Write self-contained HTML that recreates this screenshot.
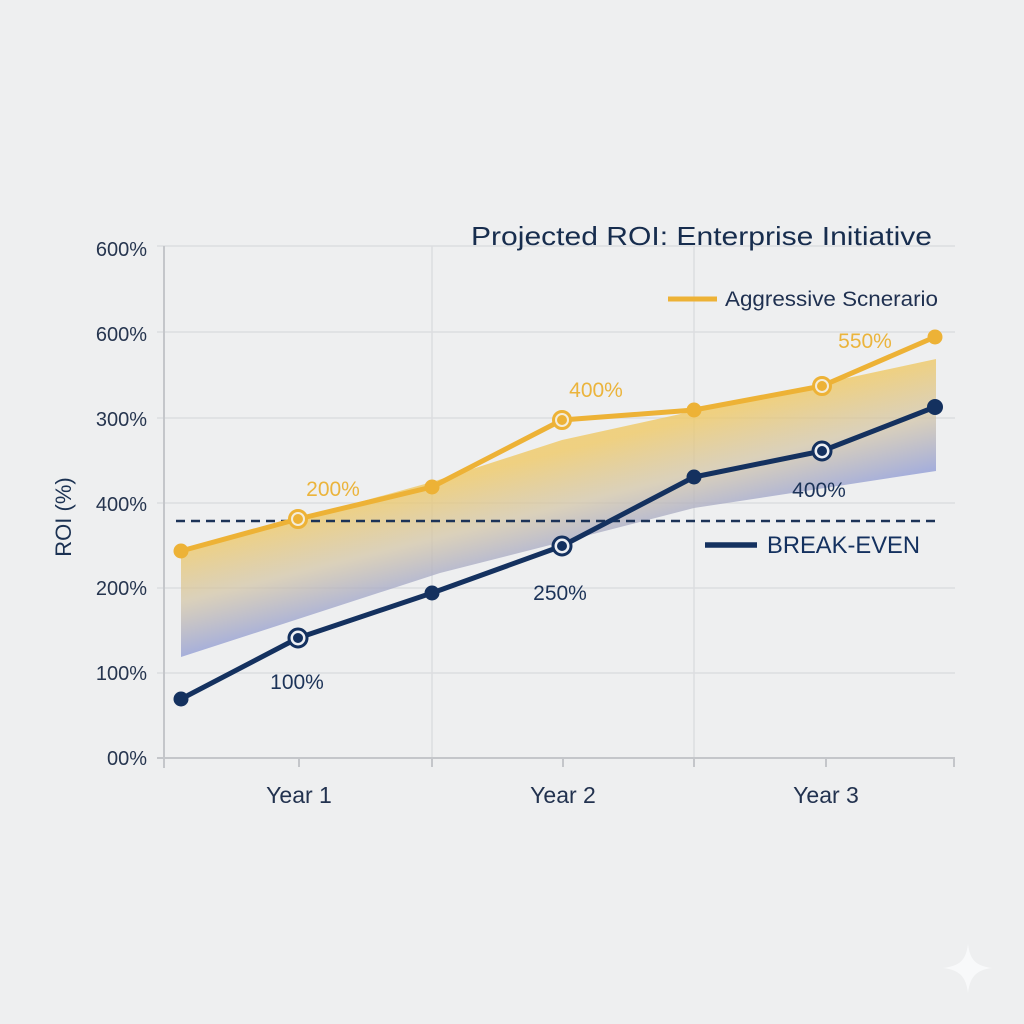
<!DOCTYPE html>
<html>
<head>
<meta charset="utf-8">
<style>
html,body{margin:0;padding:0;background:#eeeff0;}
svg{display:block;}
text{font-family:"Liberation Sans",sans-serif;}
</style>
</head>
<body>
<svg width="1024" height="1024" viewBox="0 0 1024 1024" xmlns="http://www.w3.org/2000/svg">
<defs>
<linearGradient id="band" gradientUnits="userSpaceOnUse" x1="560" y1="452" x2="586" y2="556">
<stop offset="0" stop-color="#efc862" stop-opacity="0.78"/>
<stop offset="0.5" stop-color="#d3c5a6" stop-opacity="0.72"/>
<stop offset="1" stop-color="#96a1d6" stop-opacity="0.82"/>
</linearGradient>
</defs>
<rect width="1024" height="1024" fill="#eeeff0"/>

<!-- gridlines -->
<g stroke="#dcdde0" stroke-width="1.5">
<line x1="157" y1="246" x2="955" y2="246"/>
<line x1="157" y1="332" x2="955" y2="332"/>
<line x1="157" y1="418" x2="955" y2="418"/>
<line x1="157" y1="503" x2="955" y2="503"/>
<line x1="157" y1="588" x2="955" y2="588"/>
<line x1="157" y1="673" x2="955" y2="673"/>
<line x1="432" y1="246" x2="432" y2="758"/>
<line x1="694" y1="246" x2="694" y2="758"/>
</g>
<!-- axes -->
<g stroke="#c4c6ca" stroke-width="2">
<line x1="164" y1="246" x2="164" y2="768"/>
<line x1="157" y1="758" x2="955" y2="758"/>
<line x1="299" y1="758" x2="299" y2="767"/>
<line x1="432" y1="758" x2="432" y2="767"/>
<line x1="563" y1="758" x2="563" y2="767"/>
<line x1="694" y1="758" x2="694" y2="767"/>
<line x1="826" y1="758" x2="826" y2="767"/>
<line x1="954" y1="758" x2="954" y2="767"/>
</g>

<!-- y tick labels -->
<g fill="#26354f" font-size="20" text-anchor="end">
<text x="147" y="256">600%</text>
<text x="147" y="341">600%</text>
<text x="147" y="426">300%</text>
<text x="147" y="511">400%</text>
<text x="147" y="595">200%</text>
<text x="147" y="680">100%</text>
<text x="147" y="765">00%</text>
</g>
<text x="0" y="0" transform="translate(71,517) rotate(-90)" text-anchor="middle" font-size="22" fill="#1b3152">ROI (%)</text>

<!-- x labels -->
<g fill="#22324f" font-size="23" text-anchor="middle">
<text x="299" y="803">Year 1</text>
<text x="563" y="803">Year 2</text>
<text x="826" y="803">Year 3</text>
</g>

<!-- band -->
<polygon fill="url(#band)" points="181,551 298,519 432,482 562,440 694,411 936,359 936,471 694,508 562,542 440,573 181,657"/>

<!-- dashed break-even -->
<line x1="176" y1="521" x2="936" y2="521" stroke="#1c3358" stroke-width="2.5" stroke-dasharray="9,6"/>

<!-- gold series -->
<polyline fill="none" stroke="#edb236" stroke-width="5" stroke-linejoin="round" points="181,551 298,519 432,487 562,420 694,410 822,386 935,337"/>
<!-- navy series -->
<polyline fill="none" stroke="#14315f" stroke-width="5" stroke-linejoin="round" points="181,699 298,638 432,593 562,546 694,477 822,451 935,407"/>

<!-- gold markers -->
<g fill="#edb236">
<circle cx="181" cy="551" r="7.5"/>
<circle cx="432" cy="487" r="7.5"/>
<circle cx="694" cy="410" r="7.5"/>
<circle cx="935" cy="337" r="7.5"/>
</g>
<g>
<circle cx="298" cy="519" r="8.5" fill="#f4ecd8" stroke="#edb236" stroke-width="3"/>
<circle cx="298" cy="519" r="5" fill="#edb236"/>
<circle cx="562" cy="420" r="8.5" fill="#f4ecd8" stroke="#edb236" stroke-width="3"/>
<circle cx="562" cy="420" r="5" fill="#edb236"/>
<circle cx="822" cy="386" r="8.5" fill="#f4ecd8" stroke="#edb236" stroke-width="3"/>
<circle cx="822" cy="386" r="5" fill="#edb236"/>
</g>
<!-- navy markers -->
<g fill="#14315f">
<circle cx="181" cy="699" r="7.5"/>
<circle cx="432" cy="593" r="7.5"/>
<circle cx="694" cy="477" r="7.5"/>
<circle cx="935" cy="407" r="8"/>
</g>
<g>
<circle cx="298" cy="638" r="9" fill="#eef0f4" stroke="#14315f" stroke-width="3"/>
<circle cx="298" cy="638" r="5" fill="#14315f"/>
<circle cx="562" cy="546" r="9" fill="#eef0f4" stroke="#14315f" stroke-width="3"/>
<circle cx="562" cy="546" r="5" fill="#14315f"/>
<circle cx="822" cy="451" r="9" fill="#eef0f4" stroke="#14315f" stroke-width="3"/>
<circle cx="822" cy="451" r="5" fill="#14315f"/>
</g>

<!-- data labels -->
<g font-size="21" fill="#ebb43c" text-anchor="middle">
<text x="333" y="496">200%</text>
<text x="596" y="397">400%</text>
<text x="865" y="348">550%</text>
</g>
<g font-size="21" fill="#1c3358" text-anchor="middle">
<text x="297" y="689">100%</text>
<text x="560" y="600">250%</text>
<text x="819" y="497">400%</text>
</g>

<!-- title -->
<text x="471" y="245" font-size="26" fill="#172d4e" textLength="461" lengthAdjust="spacingAndGlyphs">Projected ROI: Enterprise Initiative</text>

<!-- legend -->
<line x1="668" y1="299" x2="717" y2="299" stroke="#edb236" stroke-width="5"/>
<text x="725" y="306" font-size="21" fill="#1f3050" textLength="213" lengthAdjust="spacingAndGlyphs">Aggressive Scnerario</text>
<line x1="705" y1="545" x2="757" y2="545" stroke="#14315f" stroke-width="5.5"/>
<text x="767" y="553" font-size="24" fill="#14315f" textLength="153" lengthAdjust="spacingAndGlyphs">BREAK-EVEN</text>

<!-- sparkle -->
<path d="M968,944 C970,960 976,966 992,968 C976,970 970,977 968,993 C966,977 960,970 943,968 C960,966 966,960 968,944 Z" fill="#f8f9fa"/>
</svg>
</body>
</html>
